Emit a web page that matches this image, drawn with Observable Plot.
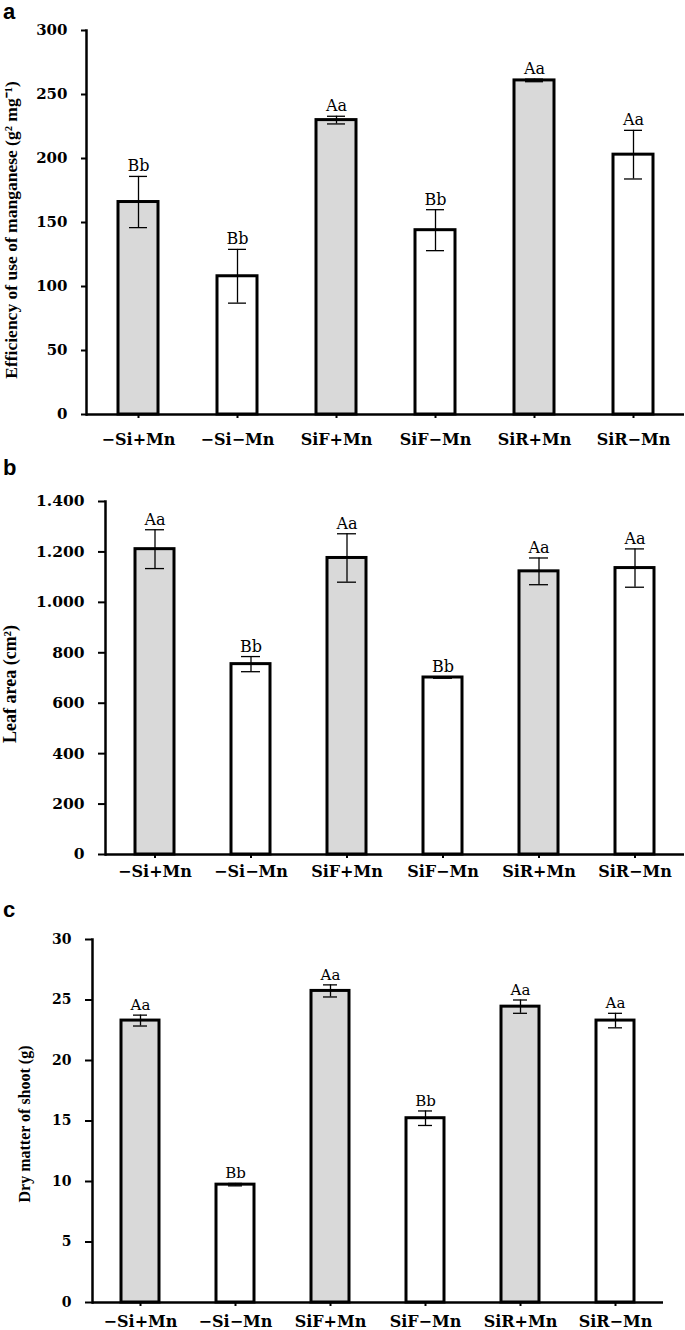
<!DOCTYPE html>
<html><head><meta charset="utf-8">
<script src="https://cdn.jsdelivr.net/npm/d3@7"></script>
<script src="https://cdn.jsdelivr.net/npm/@observablehq/plot@0.6"></script>
<style>
body{margin:0;background:#fff;}
#page{position:relative;width:685px;height:1330px;overflow:hidden;background:#fff;}
.panel{position:absolute;left:0;}
</style></head><body><div id="page"></div><script>
// ---- data ----
const treatments = ["−Si+Mn", "−Si−Mn", "SiF+Mn", "SiF−Mn", "SiR+Mn", "SiR−Mn"];
const mnSupply = ["+Mn", "−Mn", "+Mn", "−Mn", "+Mn", "−Mn"];

const effMean = [166, 108, 230, 144, 261, 203];
const effErr = [20, 21, 3, 16, 1, 19];
const effLetters = ["Bb", "Bb", "Aa", "Bb", "Aa", "Aa"];
const effTicks = [0, 50, 100, 150, 200, 250, 300];

const leafMean = [1211, 755, 1176, 702, 1123, 1136];
const leafErr = [77, 30, 96, 3, 53, 76];
const leafLetters = ["Aa", "Bb", "Aa", "Bb", "Aa", "Aa"];
const leafTicks = [0, 200, 400, 600, 800, 1000, 1200, 1400];

const dryMean = [23.3, 9.74, 25.75, 15.23, 24.45, 23.3];
const dryErr = [0.45, 0.1, 0.5, 0.6, 0.55, 0.6];
const dryLetters = ["Aa", "Bb", "Aa", "Bb", "Aa", "Aa"];
const dryTicks = [0, 5, 10, 15, 20, 25, 30];

const ptLocale = d3.formatLocale({decimal: ",", thousands: ".", grouping: [3], currency: ["", ""]});

function rows(means, errs, letters) {
  return treatments.map((t, i) => ({cat: t, supply: mnSupply[i], mean: means[i], err: errs[i], letter: letters[i]}));
}

const panels = [
  {letter: "a", top: 0, height: 450, mt: 30, mb: 36, ml: 86, mr: 1, domain: [0, 300], ticks: effTicks, fmt: d => String(d),
   data: rows(effMean, effErr, effLetters), title: "Efficiency of use of manganese (g² mg⁻¹)", tx: 13, ty: 230, tsize: 17.5,
   ly: 19, lab: 16, yts: 15, xts: 16, ytickSize: 5, xpad: 15, pin: 0.6, pout: 0.31, cap: 11},
  {letter: "b", top: 450, height: 450, mt: 51, mb: 46, ml: 105, mr: 1, domain: [0, 1400], ticks: leafTicks, fmt: ptLocale.format(","),
   data: rows(leafMean, leafErr, leafLetters), title: "Leaf area (cm²)", tx: 12, ty: 234, tsize: 18,
   ly: 25, lab: 16, yts: 15.5, xts: 16, ytickSize: 7, xpad: 7, pin: 0.59, pout: 0.30, cap: 10},
  {letter: "c", top: 900, height: 430, mt: 39, mb: 28, ml: 92, mr: 22, domain: [0, 30], ticks: dryTicks, fmt: d => String(d),
   data: rows(dryMean, dryErr, dryLetters), title: "Dry matter of shoot (g)", tx: 26, ty: 224, tsize: 16,
   ly: 17, lab: 15, yts: 14, xts: 16, ytickSize: 7, xpad: 9, pin: 0.6, pout: 0.28, cap: 12}
];

const page = document.getElementById("page");
for (const P of panels) {
  const svg = Plot.plot({
    width: 685, height: P.height,
    marginTop: P.mt, marginBottom: P.mb, marginLeft: P.ml, marginRight: P.mr,
    style: {background: "white", overflow: "visible", color: "black"},
    x: {domain: treatments, paddingInner: P.pin, paddingOuter: P.pout, axis: null},
    y: {domain: P.domain, axis: null},
    color: {domain: ["+Mn", "−Mn"], range: ["#d9d9d9", "#ffffff"]},
    marks: [
      Plot.barY(P.data, {x: "cat", y: "mean", fill: "supply", stroke: "black", strokeWidth: 3}),
      Plot.ruleX(P.data, {x: "cat", y1: d => d.mean - d.err, y2: d => d.mean + d.err, stroke: "black", strokeWidth: 1.3}),
      Plot.tickY(P.data, {x: "cat", y: d => d.mean + d.err, insetLeft: P.cap, insetRight: P.cap, stroke: "black", strokeWidth: 1.3}),
      Plot.tickY(P.data, {x: "cat", y: d => d.mean - d.err, insetLeft: P.cap, insetRight: P.cap, stroke: "black", strokeWidth: 1.3}),
      Plot.text(P.data, {x: "cat", y: d => d.mean + d.err, text: "letter", dy: -5, lineAnchor: "bottom",
        fontFamily: "DejaVu Serif", fontSize: P.lab, fill: "black", letterSpacing: 1.5}),
      Plot.axisY({ticks: P.ticks, tickFormat: P.fmt, tickSize: P.ytickSize, tickPadding: 14, strokeWidth: 2,
        fontFamily: "DejaVu Serif", fontWeight: "bold", fontSize: P.yts, label: null}),
      Plot.axisX({tickSize: 4, tickPadding: P.xpad, strokeWidth: 2,
        fontFamily: "DejaVu Serif", fontWeight: "bold", fontSize: P.xts, label: null}),
      Plot.frame({anchor: "left", stroke: "black", strokeWidth: 2.5}),
      Plot.ruleY([0], {stroke: "black", strokeWidth: 2.5})
    ]
  });
  const s = d3.select(svg);
  s.append("text")
    .attr("transform", `translate(${P.tx},${P.ty}) rotate(-90)`)
    .attr("text-anchor", "middle").attr("dominant-baseline", "middle")
    .attr("font-family", "Liberation Serif").attr("font-weight", "bold").attr("font-size", P.tsize)
    .attr("fill", "black").text(P.title);
  s.append("text")
    .attr("x", 3).attr("y", P.ly).attr("text-anchor", "start")
    .attr("font-family", "Liberation Sans").attr("font-weight", "bold").attr("font-size", 22)
    .attr("fill", "black").text(P.letter);
  const wrap = document.createElement("div");
  wrap.className = "panel";
  wrap.style.top = P.top + "px";
  wrap.appendChild(svg);
  page.appendChild(wrap);
}
</script></body></html>
